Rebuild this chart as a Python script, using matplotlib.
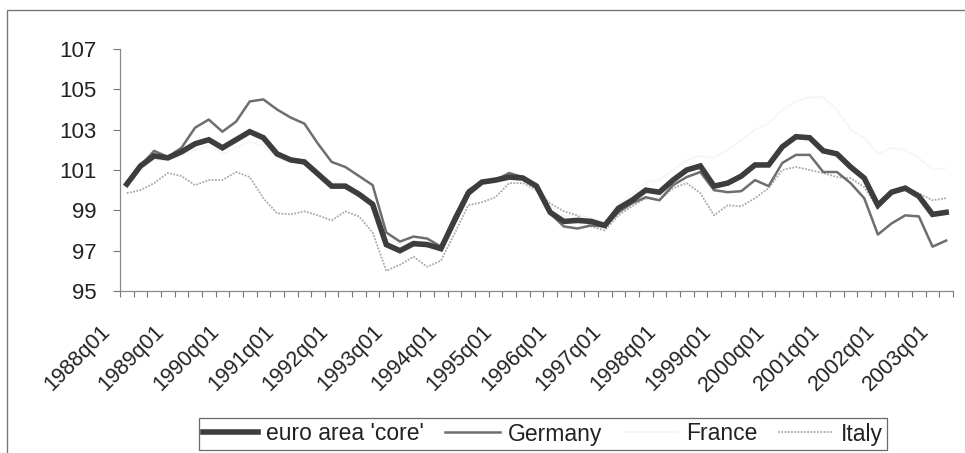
import numpy as np
import matplotlib
matplotlib.use("Agg")
import matplotlib.pyplot as plt
from matplotlib.patches import Rectangle
from matplotlib.transforms import ScaledTranslation

# quarterly data, 1988q1 .. 2003q1
quarters = [f"{y}q{q:02d}" for y in range(1988, 2004) for q in range(1, 5)][:61]

euro_core = [100.3, 101.2, 101.7, 101.6, 101.9, 102.3, 102.5, 102.1, 102.5, 102.9,
             102.6, 101.8, 101.5, 101.4, 100.8, 100.2, 100.2, 99.8, 99.3, 97.3,
             97.0, 97.35, 97.3, 97.1, 98.5, 99.85, 100.4, 100.5, 100.65, 100.6,
             100.2, 98.9, 98.45, 98.5, 98.45, 98.25, 99.1, 99.5, 100.0, 99.9,
             100.5, 101.0, 101.2, 100.2, 100.35, 100.7, 101.25, 101.25, 102.15, 102.65,
             102.6, 101.95, 101.8, 101.15, 100.6, 99.25, 99.9, 100.1, 99.7, 98.8,
             98.9]

germany = [100.3, 101.2, 101.95, 101.65, 102.1, 103.1, 103.5, 102.9, 103.4, 104.4,
           104.5, 104.0, 103.6, 103.3, 102.3, 101.4, 101.15, 100.7, 100.25, 97.9,
           97.45, 97.7, 97.6, 97.2, 98.7, 100.0, 100.45, 100.5, 100.85, 100.65,
           100.25, 98.85, 98.2, 98.1, 98.25, 98.2, 98.9, 99.35, 99.65, 99.5,
           100.25, 100.65, 100.9, 100.0, 99.9, 99.95, 100.5, 100.2, 101.35, 101.75,
           101.75, 100.9, 100.9, 100.35, 99.6, 97.8, 98.35, 98.75, 98.7, 97.2,
           97.5]

france = [100.2, 101.0, 101.5, 101.5, 101.7, 102.0, 102.2, 101.8, 102.1, 102.4,
          102.2, 101.6, 101.4, 101.3, 100.9, 100.4, 100.3, 99.9, 99.4, 97.6,
          97.3, 97.5, 97.4, 97.3, 98.6, 99.9, 100.4, 100.6, 100.8, 100.7,
          100.3, 99.2, 98.7, 98.8, 98.6, 98.4, 99.3, 99.8, 100.4, 100.5,
          101.0, 101.5, 101.7, 101.6, 102.0, 102.5, 103.0, 103.3, 104.0, 104.4,
          104.6, 104.6, 104.0, 103.0, 102.6, 101.8, 102.1, 102.0, 101.6, 101.0,
          101.1]

italy = [99.85, 100.0, 100.35, 100.85, 100.7, 100.25, 100.5, 100.5, 100.9, 100.65,
         99.6, 98.85, 98.8, 98.95, 98.75, 98.5, 98.95, 98.7, 97.9, 96.0,
         96.3, 96.7, 96.2, 96.5, 97.85, 99.25, 99.4, 99.65, 100.35, 100.35,
         100.0, 99.35, 98.95, 98.75, 98.2, 98.0, 98.75, 99.2, 99.6, 99.5,
         100.1, 100.35, 99.85, 98.75, 99.25, 99.2, 99.6, 100.1, 101.0, 101.15,
         101.0, 100.85, 100.65, 100.6, 100.15, 99.1, 99.85, 100.15, 99.85, 99.5,
         99.6]

y_ticks = [95, 97, 99, 101, 103, 105, 107]

W, H = 965, 453
plt.rcParams['font.family'] = ['Liberation Sans', 'DejaVu Sans']

fig = plt.figure(figsize=(W / 100, H / 100), dpi=100)
fig.patch.set_facecolor('white')

# outer chart-area frame (only left and top edges fall inside the picture)
fig.patches.append(Rectangle((7 / W, -0.1), 1.2, 1 - 10 / H + 0.1,
                             transform=fig.transFigure, fill=False,
                             edgecolor='#777777', linewidth=1.0))

ax = fig.add_axes([120 / W, 1 - 291 / H, (953 - 120) / W, (291 - 49) / H])

x = np.arange(len(quarters))
ax.plot(x, france, color='#f6f6f6', linewidth=1.3, label='France', zorder=2)
ax.plot(x, italy, color='#aaaaaa', linewidth=1.3, linestyle=(0, (1, 0.8)),
        label='Italy', zorder=3)
ax.plot(x, germany, color='#6e6e6e', linewidth=1.8, label='Germany', zorder=4)
ax.plot(x, euro_core, color='#3d3d3d', linewidth=4.0, label="euro area 'core'",
        zorder=5, solid_joinstyle='miter')

ax.set_xlim(-0.5, len(quarters) - 0.5)
ax.set_ylim(95, 107)
ax.set_yticks(y_ticks)
ax.set_yticklabels([str(v) for v in y_ticks])

# category boundaries carry the tick marks, labels sit every 4th quarter
ax.set_xticks(np.arange(-0.5, len(quarters), 1.0), minor=False)
ax.set_xticklabels([])
ax.set_xticks(x[::4], minor=True)
ax.set_xticklabels([quarters[i] for i in x[::4]], minor=True, rotation=45,
                   ha='right', va='center', rotation_mode='anchor')
ax.tick_params(axis='x', which='major', direction='out', length=4.5,
               color='#777777', width=0.8)
ax.tick_params(axis='x', which='minor', length=0, pad=27, labelsize=15.5,
               labelcolor='#222222')
offset = ScaledTranslation(-20 / 100, 0, fig.dpi_scale_trans)
for lab in ax.get_xticklabels(minor=True):
    lab.set_transform(lab.get_transform() + offset)

ax.tick_params(axis='y', direction='out', length=5, color='#777777', width=0.8,
               labelsize=16, labelcolor='#222222', pad=12)

for side in ['top', 'right']:
    ax.spines[side].set_visible(False)
for side in ['left', 'bottom']:
    ax.spines[side].set_color('#888888')
    ax.spines[side].set_linewidth(0.9)

handles, labels = ax.get_legend_handles_labels()
order = [3, 2, 0, 1]
leg = fig.legend([handles[i] for i in order], [labels[i] for i in order],
                 loc='center', bbox_to_anchor=(543 / W, 1 - 434 / H), ncol=4,
                 frameon=True, fancybox=False, edgecolor='#444444',
                 fontsize=16.5, handlelength=2.4, handletextpad=0.35,
                 columnspacing=0.9, borderpad=0.2, labelcolor='#222222')
leg.get_frame().set_linewidth(0.9)

fig.savefig('out.png', dpi=100, facecolor='white')
